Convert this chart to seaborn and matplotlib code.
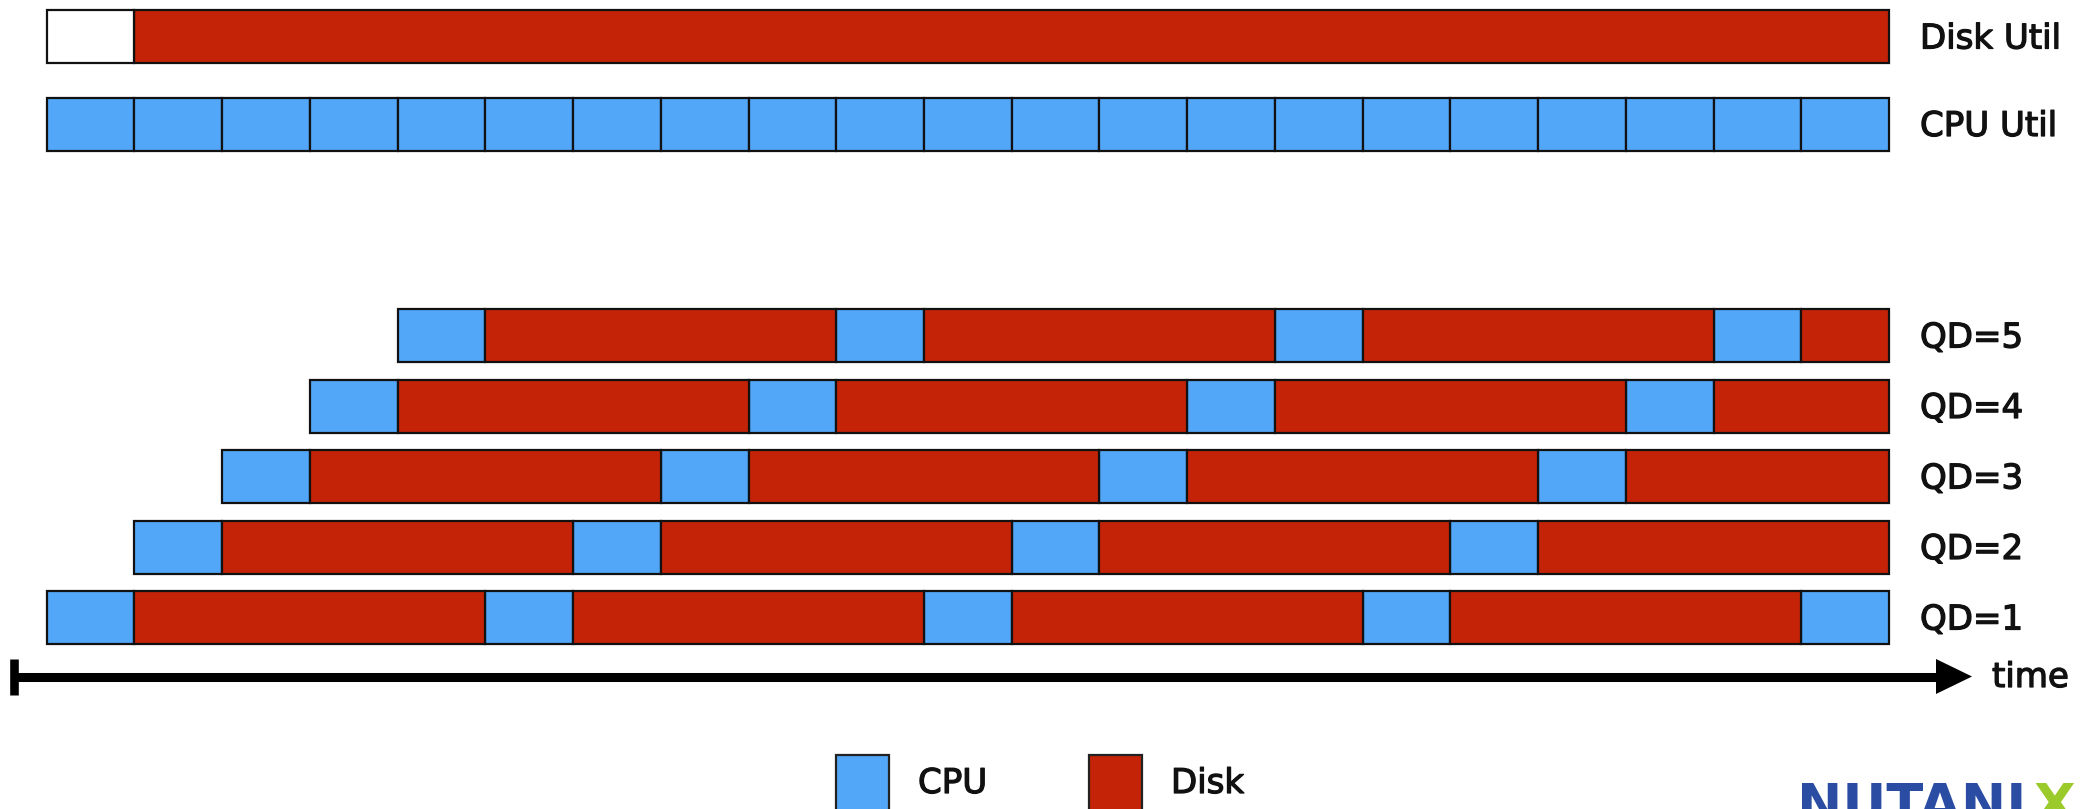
import matplotlib
matplotlib.use("Agg")
import matplotlib.pyplot as plt
from matplotlib.patches import Rectangle
import matplotlib.patheffects as pe
import pandas as pd
import seaborn as sns

# ---- data: time slots (one unit = one CPU slice) ----
row_labels = ["Disk Util", "CPU Util", "QD=5", "QD=4", "QD=3", "QD=2", "QD=1"]

disk_util_start = [0, 1]
disk_util_dur = [1, 20]
disk_util_kind = ["idle", "Disk"]

cpu_util_start = [0, 1, 2, 3, 4, 5, 6, 7, 8, 9, 10, 11, 12, 13, 14, 15, 16, 17, 18, 19, 20]
cpu_util_dur = [1, 1, 1, 1, 1, 1, 1, 1, 1, 1, 1, 1, 1, 1, 1, 1, 1, 1, 1, 1, 1]
cpu_util_kind = ["CPU"] * 21

qd5_start = [4, 5, 9, 10, 14, 15, 19, 20]
qd5_dur = [1, 4, 1, 4, 1, 4, 1, 1]
qd4_start = [3, 4, 8, 9, 13, 14, 18, 19]
qd4_dur = [1, 4, 1, 4, 1, 4, 1, 2]
qd3_start = [2, 3, 7, 8, 12, 13, 17, 18]
qd3_dur = [1, 4, 1, 4, 1, 4, 1, 3]
qd2_start = [1, 2, 6, 7, 11, 12, 16, 17]
qd2_dur = [1, 4, 1, 4, 1, 4, 1, 4]
qd1_start = [0, 1, 5, 6, 10, 11, 15, 16, 20]
qd1_dur = [1, 4, 1, 4, 1, 4, 1, 4, 1]
qd_kind_cycle = ["CPU", "Disk"]

legend_labels = ["CPU", "Disk"]

palette = {"CPU": "#52a7f9", "Disk": "#c42307", "idle": "#ffffff"}

# ---- assemble one long table of segments ----
rows = []
def add(label, starts, durs, kinds):
    for s, d, k in zip(starts, durs, kinds):
        rows.append({"row": label, "start": s, "dur": d, "kind": k})

add("Disk Util", disk_util_start, disk_util_dur, disk_util_kind)
add("CPU Util", cpu_util_start, cpu_util_dur, cpu_util_kind)
for label, st, du in [("QD=5", qd5_start, qd5_dur), ("QD=4", qd4_start, qd4_dur),
                      ("QD=3", qd3_start, qd3_dur), ("QD=2", qd2_start, qd2_dur),
                      ("QD=1", qd1_start, qd1_dur)]:
    add(label, st, du, [qd_kind_cycle[i % 2] for i in range(len(st))])
segments = pd.DataFrame(rows)

# ---- layout (canvas pixels) ----
W, H = 2093, 809
x0_px, unit_px = 46.7, 87.73
row_y = {"Disk Util": 36.5, "CPU Util": 124.0, "QD=5": 335.5, "QD=4": 406.0,
         "QD=3": 476.5, "QD=2": 547.0, "QD=1": 617.5}
bar_h = 53
segments["y"] = segments["row"].map(row_y)

sns.set_theme(style="white")
plt.rcParams["font.family"] = ["DejaVu Sans"]

fig = plt.figure(figsize=(W / 100, H / 100), dpi=100)
ax = fig.add_axes([0, 0, 1, 1])
ax.set_xlim(-x0_px / unit_px, (W - x0_px) / unit_px)
ax.set_ylim(H, 0)
ax.axis("off")

for kind, grp in segments.groupby("kind"):
    ax.barh(grp["y"], grp["dur"], left=grp["start"], height=bar_h,
            color=palette[kind], edgecolor="#111111", linewidth=1.6, zorder=2)

# pixel-space overlay for labels, time axis, legend and logo
deco = fig.add_axes([0, 0, 1, 1], zorder=3)
deco.set_xlim(0, W)
deco.set_ylim(H, 0)
deco.axis("off")
deco.patch.set_alpha(0)

font_pt = 24.5
txt_kw = dict(fontsize=font_pt, color="#111111", ha="left", va="baseline",
              path_effects=[pe.withStroke(linewidth=0.9, foreground="#111111")])
for lab in row_labels:
    deco.text(1920, row_y[lab] + 12, lab, **txt_kw)

# time axis
deco.plot([14, 1938], [676.5, 676.5], color="black", lw=6.5, solid_capstyle="butt")
deco.plot([14, 14], [659, 695], color="black", lw=6.2, solid_capstyle="butt")
deco.fill([1936, 1972, 1936], [659, 676.5, 694], color="black", lw=0)
deco.text(1992, 687, "time", **txt_kw)

# legend
for lab, bx, tx in zip(legend_labels, [836, 1089], [918, 1171]):
    deco.add_patch(Rectangle((bx, 755), 53, 56, facecolor=palette[lab],
                             edgecolor="#222222", linewidth=1.6, clip_on=False))
    deco.text(tx, 793, lab, **txt_kw)

# logo (runs off the bottom-right corner)
deco.text(1797, 822, "NUTANI", fontsize=39, fontweight="bold", ha="left",
          va="baseline", color="#2a4ca3", clip_on=False)
deco.text(2034, 822, "X", fontsize=39, fontweight="bold", ha="left",
          va="baseline", color="#9bcb2a", clip_on=False)

fig.savefig("out.png", dpi=100)
